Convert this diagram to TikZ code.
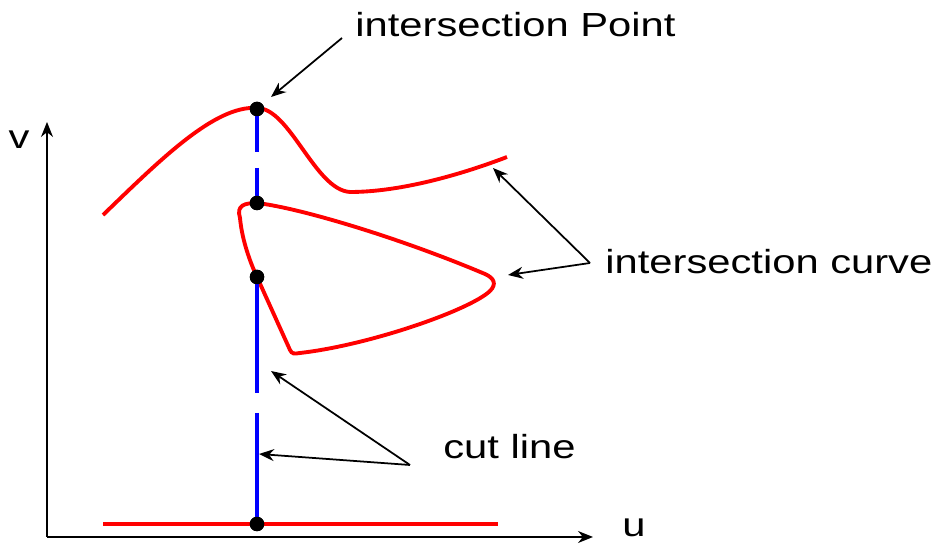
\documentclass[tikz,border=0pt]{standalone}
\usepackage{fontspec}
\setmainfont{Liberation Sans}[FakeStretch=1.25]
\usetikzlibrary{arrows.meta}

\begin{document}
\begin{tikzpicture}[x=0.02cm,y=-0.02cm,>={Stealth[length=3mm,width=2.4mm]},
  curve/.style={red,line width=2.2pt},
  cut/.style={blue,line width=2.2pt},
  pt/.style={circle,fill=black,inner sep=0pt,minimum size=2.9mm},
  lbl/.style={font=\fontsize{19}{22}\selectfont,inner sep=0pt},
  pointer/.style={->,line width=1pt}]
  \useasboundingbox (0,0) rectangle (934,546);
  % axes
  \coordinate (o) at (47,537);
  \coordinate (vtop) at (47,122);
  \coordinate (uend) at (593,537);
  \draw[->,line width=0.9pt] (o) -- (vtop);
  \draw[->,line width=0.9pt] (o) -- (uend);
  \node[lbl] (v) at (19,140) {v};
  \node[lbl] (u) at (634,528) {u};
  % intersection curves
  \draw[curve] (103,215) .. controls (160,160) and (215,105) .. (257,108)
    .. controls (290,108) and (315,190) .. (350,192)
    .. controls (400,192) and (460,175) .. (507,157);
  \draw[curve] (257,203) .. controls (245,203) and (236,205) .. (240,218)
    .. controls (242,240) and (250,262) .. (257,277) -- (290,350)
    .. controls (292,354) and (294,354) .. (300,353)
    .. controls (370,345) and (470,310) .. (490,291)
    .. controls (497,284) and (494,278) .. (485,274)
    .. controls (400,238) and (300,208) .. (257,203);
  \draw[curve] (103,524) -- (498,524);
  % cut line
  \node[pt] (p1) at (257,109) {};
  \node[pt] (p2) at (257,203) {};
  \node[pt] (p3) at (257,277) {};
  \node[pt] (p4) at (257,524) {};
  \coordinate (c1) at (257,152);
  \coordinate (c2) at (257,168);
  \coordinate (c3) at (257,393);
  \coordinate (c4) at (257,413);
  \draw[cut] (p1.center) -- (c1) (c2) -- (p2.center) (p3.center) -- (c3) (c4) -- (p4.center);
  \node[pt] at (p1) {};
  \node[pt] at (p2) {};
  \node[pt] at (p3) {};
  \node[pt] at (p4) {};
  % labels
  \node[lbl,anchor=west] (tpoint) at (355,25) {intersection Point};
  \node[lbl,anchor=west] (tcurve) at (605,262) {intersection curve};
  \node[lbl,anchor=west] (tcut) at (443,447) {cut line};
  \coordinate (s1) at (342,38);
  \coordinate (e1) at (271,97);
  \coordinate (s2) at (590,263);
  \coordinate (e2a) at (493,168);
  \coordinate (e2b) at (508,275);
  \coordinate (s3) at (410,465);
  \coordinate (e3a) at (271,371);
  \coordinate (e3b) at (259,454);
  \draw[pointer] (s1) -- (e1);
  \draw[pointer] (s2) -- (e2a);
  \draw[pointer] (s2) -- (e2b);
  \draw[pointer] (s3) -- (e3a);
  \draw[pointer] (s3) -- (e3b);
\end{tikzpicture}
\end{document}
